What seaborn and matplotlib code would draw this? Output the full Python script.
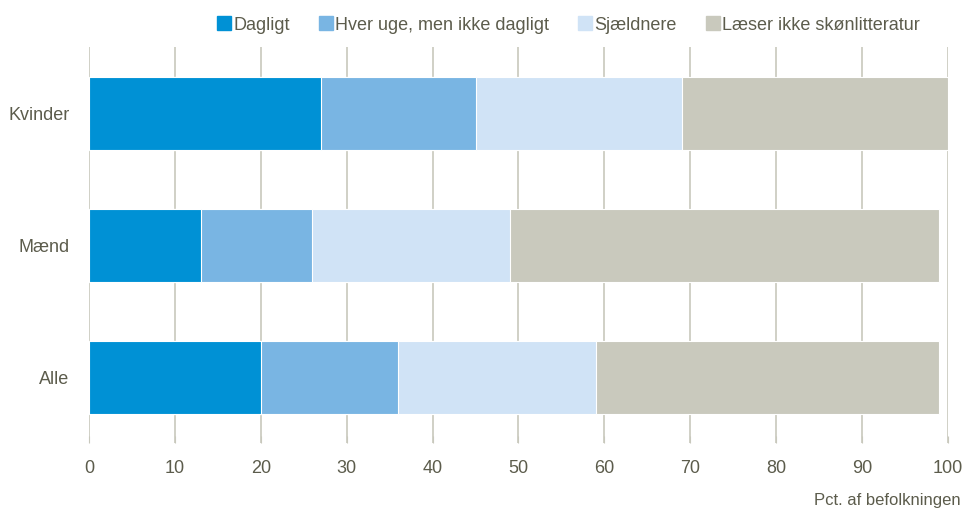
import matplotlib
matplotlib.use("Agg")
import matplotlib.pyplot as plt
from matplotlib.lines import Line2D
import seaborn as sns
import pandas as pd
import numpy as np

groups = ["Kvinder", "Mænd", "Alle"]
series = ["Dagligt", "Hver uge, men ikke dagligt", "Sjældnere", "Læser ikke skønlitteratur"]
dagligt = [27, 13, 20]
hver_uge = [18, 13, 16]
sjaeldnere = [24, 23, 23]
laeser_ikke = [31, 50, 40]
colors = ["#0091d5", "#79b5e3", "#d0e3f6", "#c9c9bd"]

txt = "#5c5c4c"
sns.set_style("white")
plt.rcParams["font.family"] = ["Liberation Sans Narrow", "Liberation Sans", "DejaVu Sans"]

fig = plt.figure(figsize=(9.65, 5.13), dpi=100)
ax = fig.add_axes([0.0922, 0.1355, 0.8902, 0.772])

vals = np.array([dagligt, hver_uge, sjaeldnere, laeser_ikke])
cum = vals.cumsum(axis=0)
df = pd.DataFrame({"gruppe": groups})
# draw longest stack first so shorter segments sit on top
for i in range(len(series) - 1, -1, -1):
    df["v"] = cum[i]
    sns.barplot(data=df, x="v", y="gruppe", orient="h", color=colors[i],
                width=0.55, saturation=1, edgecolor="white", linewidth=0.8,
                ax=ax, zorder=3)

ax.set_xlim(0, 100)
ax.set_ylim(2.5, -0.5)
ax.set_xticks(range(0, 101, 10))
ax.grid(axis="x", color="#c8c8bc", linewidth=1.2, zorder=0)
ax.grid(axis="y", visible=False)
for s in ax.spines.values():
    s.set_visible(False)
ax.tick_params(axis="x", length=5, color="#c8c8bc", labelsize=13, labelcolor=txt, pad=12, direction="in", bottom=True)
ax.tick_params(axis="y", length=0, labelsize=13, labelcolor=txt, pad=14)
ax.set_xlabel("")
ax.set_ylabel("")

fig.text(0.995, 0.01, "Pct. af befolkningen", ha="right", va="bottom", fontsize=12, color=txt)

handles = [Line2D([], [], marker="s", linestyle="", markersize=10, color=c) for c in colors]
fig.legend(handles, series, loc="center", bbox_to_anchor=(0.589, 0.951), ncol=4, frameon=False,
           fontsize=13, labelcolor=txt, handletextpad=0.1, columnspacing=1.6, handlelength=0.8)

fig.savefig("out.png", dpi=100)
